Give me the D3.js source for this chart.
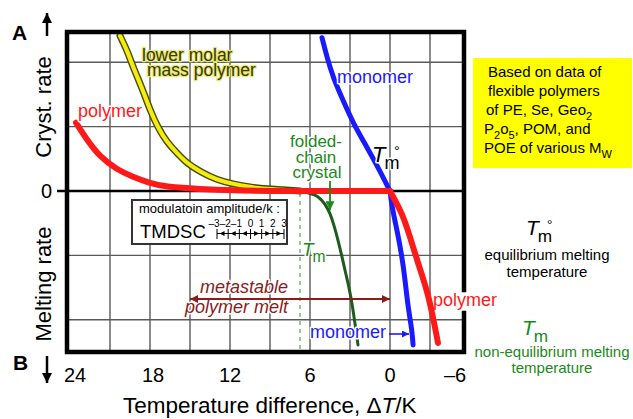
<!DOCTYPE html>
<html><head><meta charset="utf-8">
<script src="https://cdn.jsdelivr.net/npm/d3@7"></script>
<style>
html,body{margin:0;padding:0;background:#fff;}
svg{display:block;font-family:"Liberation Sans",Arial,sans-serif;}
</style></head><body>
<svg id="chart" width="633" height="419"></svg>
<script>
// Axis ticks and grid (ΔT in K, rate in arbitrary units)
const xTicks = [24, 18, 12, 6, 0, -6];
const xGrid = [21, 18, 15, 12, 9, 6, 3, 0, -3];
const yGrid = [2, 1, -1, -2];
const tmNonEq = 6.75;               // non-equilibrium melting point, ΔT
const metastableRange = [15, 0];    // metastable polymer melt span, ΔT
const tmdscAmplitude = [-3, -2, -1, 0, 1, 2, 3];

// Curves as [ΔT, rate]; positive = crystallization, negative = melting
const polymerCryst = [[23.55,1.06],[22.72,0.79],[21.75,0.53],[20.48,0.33],[19.28,0.22],[18.0,0.12],[16.73,0.06],[14.25,0.03],[11.78,0.01],[9.23,0],[4.5,0],[0,0]];
const polymerMelt = [[0,0],[-0.23,-0.09],[-0.9,-0.34],[-1.5,-0.71],[-2.1,-1.12],[-2.78,-1.54],[-3.23,-1.96],[-3.6,-2.36]];
const lowMolarCryst = [[20.25,2.41],[19.73,2.19],[19.28,1.93],[18.6,1.6],[18.0,1.26],[17.4,0.98],[16.73,0.76],[15.98,0.59],[15.23,0.43],[14.25,0.3],[12.98,0.17],[11.78,0.11],[10.5,0.06],[9.23,0.03],[8.03,0.02],[6.75,0]];
const monomerCryst = [[5.1,2.38],[4.73,2.08],[4.28,1.77],[3.53,1.41],[2.78,1.06],[1.73,0.68],[0.9,0.37],[0,0]];
const monomerMelt = [[0,0],[-0.15,-0.25],[-0.53,-0.61],[-0.9,-1.02],[-1.13,-1.38],[-1.35,-1.8],[-1.65,-2.16],[-1.73,-2.39]];
const foldedChainMelt = [[6.75,0],[6.23,-0.02],[5.63,-0.06],[5.25,-0.11],[4.88,-0.2],[4.5,-0.34],[4.2,-0.53],[3.9,-0.76],[3.6,-1.02],[3.38,-1.23],[3.08,-1.49],[2.85,-1.74],[2.63,-2.05],[2.4,-2.39]];

const svg = d3.select("#chart");
const frame = {left: 67, right: 464, top: 32, bottom: 352};
const x = d3.scaleLinear().domain([24, -6]).range([70, 470]);
const y = d3.scaleLinear().domain([2.5, -2.5]).range([30, 352]);

const defs = svg.append("defs");
function marker(id, color, w, h) {
  defs.append("marker").attr("id", id).attr("viewBox", "0 0 10 10")
    .attr("refX", 10).attr("refY", 5).attr("markerUnits", "userSpaceOnUse")
    .attr("markerWidth", w).attr("markerHeight", h).attr("orient", "auto-start-reverse")
    .append("path").attr("d", "M0,0 L10,5 L0,10 Z").attr("fill", color);
}
marker("arrBlack", "#000", 10, 10);
marker("arrRed", "#8b1c1c", 9, 8);
marker("arrGreen", "#1a8a1a", 9, 9);
marker("arrBlue", "#1a1aff", 8, 7);

defs.append("clipPath").attr("id", "plotClip").append("rect")
  .attr("x", frame.left).attr("y", frame.top)
  .attr("width", frame.right - frame.left).attr("height", frame.bottom - frame.top);

// grid
const grid = svg.append("g").attr("clip-path", "url(#plotClip)")
  .attr("stroke", "#5a5a5a").attr("stroke-width", 1.4);
grid.selectAll("line.v").data(xGrid).join("line")
  .attr("x1", d => x(d)).attr("x2", d => x(d)).attr("y1", frame.top).attr("y2", frame.bottom);
grid.selectAll("line.h").data(yGrid).join("line")
  .attr("x1", frame.left).attr("x2", frame.right).attr("y1", d => y(d)).attr("y2", d => y(d));

// zero rate line
svg.append("line").attr("x1", 57).attr("x2", frame.right).attr("y1", y(0)).attr("y2", y(0))
  .attr("stroke", "#000").attr("stroke-width", 2.5);

// non-equilibrium Tm marker
svg.append("line").attr("x1", x(tmNonEq)).attr("x2", x(tmNonEq)).attr("y1", y(0) + 2).attr("y2", frame.bottom)
  .attr("stroke", "#8fd08f").attr("stroke-width", 2).attr("stroke-dasharray", "4,4");

const line = d3.line().x(d => x(d[0])).y(d => y(d[1])).curve(d3.curveBasis);
const plot = svg.append("g").attr("clip-path", "url(#plotClip)").attr("fill", "none")
  .attr("stroke-linecap", "round").attr("stroke-linejoin", "round");

plot.append("path").attr("d", line(lowMolarCryst)).attr("stroke", "#4a4a00").attr("stroke-width", 7);
plot.append("path").attr("d", line(lowMolarCryst)).attr("stroke", "#f2ec10").attr("stroke-width", 4.2);
plot.append("path").attr("d", line(foldedChainMelt)).attr("stroke", "#1f5a1f").attr("stroke-width", 3);
plot.append("path").attr("d", line(monomerCryst)).attr("stroke", "#1a1aff").attr("stroke-width", 5);
plot.append("path").attr("d", line(monomerMelt)).attr("stroke", "#1a1aff").attr("stroke-width", 5);
plot.append("path").attr("d", line(polymerCryst)).attr("stroke", "#ff1a1a").attr("stroke-width", 6);
plot.append("path").attr("d", line(polymerMelt)).attr("stroke", "#ff1a1a").attr("stroke-width", 6);

// frame (open on the right where the melting label sits)
svg.append("path")
  .attr("d", `M${frame.right},290 L${frame.right},${frame.top} L${frame.left},${frame.top} L${frame.left},${frame.bottom} L${frame.right},${frame.bottom} L${frame.right},313`)
  .attr("fill", "none").attr("stroke", "#000").attr("stroke-width", 4.5).attr("stroke-linecap", "square");

// x axis tick labels
const tickShift = {"24": 5, "18": 3, "-6": -15};
svg.append("g").selectAll("text").data(xTicks).join("text")
  .attr("x", d => x(d) + (tickShift[d] || 0)).attr("y", 382)
  .attr("text-anchor", "middle").attr("font-size", 20)
  .text(d => d < 0 ? "\u2013" + Math.abs(d) : d);
svg.append("text").attr("x", 52).attr("y", 198).attr("text-anchor", "end").attr("font-size", 20).text("0");

// axis titles
const xt = svg.append("text").attr("x", 123).attr("y", 413).attr("font-size", 22.5);
xt.append("tspan").text("Temperature difference, \u0394");
xt.append("tspan").attr("font-style", "italic").text("T");
xt.append("tspan").text("/K");
svg.append("text").attr("transform", "translate(51,107) rotate(-90)").attr("text-anchor", "middle")
  .attr("font-size", 22).text("Cryst. rate");
svg.append("text").attr("transform", "translate(51,284) rotate(-90)").attr("text-anchor", "middle")
  .attr("font-size", 22).text("Melting rate");
svg.append("text").attr("x", 12).attr("y", 40).attr("font-size", 21).attr("font-weight", "bold").text("A");
svg.append("text").attr("x", 13).attr("y", 370).attr("font-size", 21).attr("font-weight", "bold").text("B");
svg.append("line").attr("x1", 47).attr("x2", 47).attr("y1", 36).attr("y2", 13)
  .attr("stroke", "#000").attr("stroke-width", 2.5).attr("marker-end", "url(#arrBlack)");
svg.append("line").attr("x1", 47).attr("x2", 47).attr("y1", 356).attr("y2", 383)
  .attr("stroke", "#000").attr("stroke-width", 2.5).attr("marker-end", "url(#arrBlack)");

// multi-line labels with a halo so they sit cleanly over the grid
// lines: [[x, y, text], ...]
function label(lines, opts = {}) {
  const t = svg.append("text")
    .attr("font-size", opts.size || 18).attr("fill", opts.fill || "#000")
    .attr("text-anchor", opts.anchor || "start");
  if (opts.italic) t.attr("font-style", "italic");
  if (opts.halo !== false) t.attr("stroke", opts.haloColor || "#fff").attr("stroke-width", opts.haloWidth || 3)
    .attr("paint-order", "stroke").attr("stroke-linejoin", "round");
  lines.forEach(([lx, ly, str]) => t.append("tspan").attr("x", lx).attr("y", ly).text(str));
  return t;
}
label([[78, 117, "polymer"]], {fill: "#ff1a1a"});
label([[142, 61, "lower molar"], [147, 76, "mass polymer"]],
  {fill: "#3a3a00", size: 17.5, haloColor: "#e8e870", haloWidth: 2.5});
label([[337, 83, "monomer"]], {fill: "#1a1aff"});
label([[316, 147, "folded-"], [316, 163, "chain"], [317, 178, "crystal"]],
  {fill: "#1a8a1a", size: 17, anchor: "middle"});
label([[200, 293, "metastable"], [185, 313, "polymer melt"]], {fill: "#8b1c1c", italic: true});
label([[310, 338, "monomer"]], {fill: "#1a1aff"});
label([[433, 306, "polymer"]], {fill: "#ff1a1a", halo: false});

// T_m symbol: italic T, subscript m, optional degree sign
function tmSymbol(tx, ty, size, fill, degree, halo) {
  const t = svg.append("text").attr("x", tx).attr("y", ty).attr("fill", fill).attr("font-size", size);
  if (halo) t.attr("stroke", "#fff").attr("stroke-width", 3).attr("paint-order", "stroke").attr("stroke-linejoin", "round");
  t.append("tspan").attr("font-style", "italic").text("T");
  t.append("tspan").attr("font-size", size * 0.82).attr("dx", -1).attr("dy", size * 0.33).text("m");
  if (degree) t.append("tspan").attr("font-size", size * 0.65).attr("dx", -size * 0.25)
    .attr("dy", -size * 0.62).attr("stroke-width", 0).text("\u00b0");
  return t;
}
tmSymbol(372, 162, 22, "#000", true, true);
tmSymbol(302, 256, 19, "#1a8a1a", false, true);
tmSymbol(526, 235, 21, "#000", true, false);
tmSymbol(522, 335, 21, "#1a8a1a", false, false);

// arrows
svg.append("line").attr("x1", x(4.5)).attr("x2", x(4.5)).attr("y1", 181).attr("y2", y(-0.3))
  .attr("stroke", "#1a8a1a").attr("stroke-width", 1.8).attr("marker-end", "url(#arrGreen)");
svg.append("line").attr("x1", x(metastableRange[0])).attr("x2", x(metastableRange[1]))
  .attr("y1", 299).attr("y2", 299).attr("stroke", "#8b1c1c").attr("stroke-width", 2)
  .attr("marker-start", "url(#arrRed)").attr("marker-end", "url(#arrRed)");
svg.append("line").attr("x1", 389).attr("x2", 409).attr("y1", 334).attr("y2", 334)
  .attr("stroke", "#1a1aff").attr("stroke-width", 1.6).attr("marker-end", "url(#arrBlue)");

// TMDSC modulation amplitude key
svg.append("rect").attr("x", 132).attr("y", 200).attr("width", 155).attr("height", 44)
  .attr("fill", "#fff").attr("stroke", "#333").attr("stroke-width", 2);
svg.append("text").attr("x", 139).attr("y", 213).attr("font-size", 13).text("modulatoin amplitude/k :");
svg.append("text").attr("x", 140).attr("y", 238).attr("font-size", 18.5).text("TMDSC");
const am = d3.scaleLinear().domain([-3, 3]).range([217, 284]);
const key = svg.append("g");
const keyText = key.append("text").attr("y", 226.5).attr("font-size", 10);
tmdscAmplitude.forEach(d => {
  keyText.append("tspan").attr("x", d < 0 ? am(d) - 8.5 : am(d) - 2.8)
    .text(d < 0 ? "\u2013" + Math.abs(d) : d);
});
key.append("line").attr("x1", am(-3)).attr("x2", am(3)).attr("y1", 233.5).attr("y2", 233.5)
  .attr("stroke", "#000").attr("stroke-width", 1);
key.selectAll("line.t").data(tmdscAmplitude).join("line")
  .attr("x1", d => am(d)).attr("x2", d => am(d)).attr("y1", 229).attr("y2", 239)
  .attr("stroke", "#000").attr("stroke-width", 1);
key.selectAll("path").data(tmdscAmplitude.slice(0, -1)).join("path")
  .attr("d", d => {
    const m = (am(d) + am(d + 1)) / 2, yy = 233.5;
    return d < 0 ? `M${m - 3},${yy} L${m + 2},${yy - 2.5} L${m + 2},${yy + 2.5} Z`
                 : `M${m + 3},${yy} L${m - 2},${yy - 2.5} L${m - 2},${yy + 2.5} Z`;
  }).attr("fill", "#000");

// note box
svg.append("rect").attr("x", 473).attr("y", 58).attr("width", 159).attr("height", 110).attr("fill", "#ffff00");
const note = svg.append("g").attr("font-size", 15);
note.append("text").attr("x", 488).attr("y", 77).text("Based on data of");
note.append("text").attr("x", 488).attr("y", 96).text("flexible polymers");
const n3 = note.append("text").attr("x", 486).attr("y", 115);
n3.append("tspan").text("of PE, Se, Geo");
n3.append("tspan").attr("font-size", 11).attr("dy", 5).text("2");
const n4 = note.append("text").attr("x", 484).attr("y", 134);
n4.append("tspan").text("P");
n4.append("tspan").attr("font-size", 11).attr("dy", 5).text("2");
n4.append("tspan").attr("dy", -5).text("o");
n4.append("tspan").attr("font-size", 11).attr("dy", 5).text("5");
n4.append("tspan").attr("dy", -5).text(", POM, and");
const n5 = note.append("text").attr("x", 484).attr("y", 153);
n5.append("tspan").text("POE of various M");
n5.append("tspan").attr("font-size", 11).attr("dy", 5).text("W");

// legend of melting temperatures
const eq = svg.append("text").attr("font-size", 15).attr("text-anchor", "middle");
eq.append("tspan").attr("x", 547).attr("y", 260).text("equilibrium melting");
eq.append("tspan").attr("x", 547).attr("y", 277).text("temperature");
const neq = svg.append("text").attr("font-size", 15).attr("text-anchor", "middle").attr("fill", "#1a8a1a");
neq.append("tspan").attr("x", 552).attr("y", 357).text("non-equilibrium melting");
neq.append("tspan").attr("x", 552).attr("y", 373).text("temperature");
</script>
</body></html>
